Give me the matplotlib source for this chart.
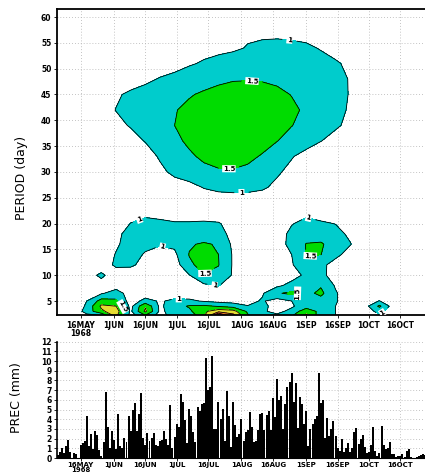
import numpy as np
import matplotlib
matplotlib.use("Agg")
import matplotlib.pyplot as plt
import matplotlib.dates as mdates
from datetime import date, timedelta

# wavelet power field: columns every 7 days from 5 May 1968, rows = period (day)
grid_start = date(1968, 5, 5)
grid_step = 7
periods = [62, 60, 57, 54, 51, 48, 45, 42, 39, 36, 33, 30, 27, 24, 22, 20,
           18, 16, 14, 12, 10, 8, 6.5, 5, 4, 3, 2]
power = [
    [0.4, 0.45, 0.5, 0.55, 0.6, 0.62, 0.65, 0.68, 0.7, 0.72, 0.74, 0.75, 0.76, 0.76, 0.75, 0.74, 0.72, 0.7, 0.66, 0.62, 0.58, 0.55, 0.5, 0.47, 0.44, 0.4],
    [0.42, 0.47, 0.52, 0.58, 0.63, 0.66, 0.69, 0.72, 0.75, 0.77, 0.79, 0.8, 0.81, 0.82, 0.82, 0.81, 0.79, 0.76, 0.72, 0.67, 0.62, 0.57, 0.52, 0.48, 0.45, 0.41],
    [0.45, 0.5, 0.55, 0.6, 0.65, 0.7, 0.74, 0.78, 0.82, 0.85, 0.87, 0.89, 0.9, 0.92, 0.93, 0.93, 0.92, 0.9, 0.86, 0.8, 0.74, 0.66, 0.58, 0.52, 0.47, 0.43],
    [0.45, 0.5, 0.55, 0.6, 0.65, 0.68, 0.7, 0.72, 0.76, 0.8, 0.85, 0.88, 0.92, 1.03, 1.08, 1.1, 1.08, 1.05, 0.98, 0.88, 0.78, 0.68, 0.6, 0.53, 0.48, 0.44],
    [0.45, 0.5, 0.55, 0.6, 0.65, 0.7, 0.72, 0.76, 0.8, 0.95, 1.05, 1.15, 1.25, 1.3, 1.32, 1.3, 1.25, 1.18, 1.1, 1.04, 0.93, 0.8, 0.68, 0.58, 0.5, 0.45],
    [0.5, 0.55, 0.6, 0.68, 0.75, 0.82, 0.9, 1.03, 1.15, 1.25, 1.35, 1.42, 1.47, 1.48, 1.47, 1.44, 1.38, 1.3, 1.2, 1.1, 0.98, 0.8, 0.68, 0.58, 0.5, 0.45],
    [0.5, 0.6, 0.7, 0.82, 0.95, 1.07, 1.18, 1.3, 1.4, 1.47, 1.55, 1.62, 1.66, 1.66, 1.63, 1.57, 1.49, 1.38, 1.25, 1.12, 0.98, 0.8, 0.68, 0.58, 0.5, 0.45],
    [0.5, 0.6, 0.72, 0.85, 1.01, 1.12, 1.25, 1.37, 1.48, 1.58, 1.68, 1.75, 1.78, 1.77, 1.72, 1.65, 1.56, 1.45, 1.3, 1.13, 0.95, 0.78, 0.66, 0.57, 0.5, 0.45],
    [0.45, 0.55, 0.65, 0.75, 0.9, 1.03, 1.18, 1.33, 1.5, 1.62, 1.72, 1.8, 1.83, 1.8, 1.74, 1.65, 1.51, 1.38, 1.22, 1.06, 0.9, 0.75, 0.64, 0.56, 0.5, 0.45],
    [0.4, 0.5, 0.58, 0.66, 0.75, 0.85, 1.02, 1.2, 1.4, 1.58, 1.7, 1.78, 1.8, 1.76, 1.66, 1.51, 1.35, 1.18, 1.01, 0.85, 0.72, 0.62, 0.55, 0.5, 0.45, 0.4],
    [0.35, 0.42, 0.5, 0.56, 0.62, 0.7, 0.8, 1.05, 1.25, 1.43, 1.58, 1.66, 1.67, 1.6, 1.46, 1.25, 1.03, 0.85, 0.72, 0.62, 0.55, 0.5, 0.45, 0.42, 0.4, 0.36],
    [0.3, 0.36, 0.42, 0.48, 0.54, 0.6, 0.7, 0.9, 1.1, 1.25, 1.38, 1.45, 1.46, 1.4, 1.25, 1.06, 0.88, 0.72, 0.62, 0.55, 0.5, 0.45, 0.42, 0.4, 0.36, 0.32],
    [0.3, 0.34, 0.38, 0.42, 0.46, 0.5, 0.58, 0.7, 0.8, 0.85, 1.02, 1.1, 1.13, 1.12, 1.06, 0.9, 0.75, 0.62, 0.55, 0.5, 0.46, 0.42, 0.4, 0.38, 0.35, 0.32],
    [0.3, 0.34, 0.38, 0.45, 0.55, 0.6, 0.6, 0.6, 0.62, 0.65, 0.72, 0.75, 0.75, 0.75, 0.72, 0.62, 0.6, 0.62, 0.6, 0.55, 0.5, 0.45, 0.42, 0.38, 0.35, 0.32],
    [0.3, 0.35, 0.45, 0.55, 0.7, 0.85, 0.93, 0.88, 0.86, 0.86, 0.87, 0.8, 0.7, 0.6, 0.55, 0.7, 0.85, 0.93, 0.85, 0.7, 0.55, 0.45, 0.4, 0.35, 0.32, 0.3],
    [0.3, 0.35, 0.45, 0.6, 0.8, 1.01, 1.1, 1.08, 1.03, 1.03, 1.04, 1.03, 0.85, 0.65, 0.55, 0.75, 0.98, 1.1, 1.05, 0.99, 0.8, 0.55, 0.45, 0.38, 0.33, 0.3],
    [0.3, 0.35, 0.5, 0.7, 0.9, 1.15, 1.2, 1.15, 1.12, 1.15, 1.2, 1.12, 0.9, 0.7, 0.6, 0.85, 1.08, 1.3, 1.3, 1.12, 0.93, 0.6, 0.45, 0.38, 0.33, 0.3],
    [0.3, 0.35, 0.5, 0.7, 0.95, 1.15, 1.08, 1.04, 1.1, 1.45, 1.56, 1.45, 0.9, 0.7, 0.6, 0.85, 1.1, 1.52, 1.55, 1.3, 1.02, 0.75, 0.5, 0.4, 0.33, 0.3],
    [0.3, 0.4, 0.55, 0.8, 1.02, 1.12, 0.97, 0.8, 0.9, 1.52, 1.62, 1.5, 0.95, 0.7, 0.6, 0.8, 1.0, 1.52, 1.51, 1.1, 0.85, 0.6, 0.45, 0.4, 0.33, 0.3],
    [0.3, 0.45, 0.6, 0.7, 1.1, 1.1, 0.8, 0.65, 0.75, 1.42, 1.65, 1.52, 0.95, 0.7, 0.6, 0.75, 0.95, 1.4, 1.1, 0.85, 0.7, 0.55, 0.45, 0.4, 0.33, 0.3],
    [0.3, 0.5, 0.8, 1.1, 0.7, 0.65, 0.6, 0.55, 0.7, 0.98, 1.48, 1.35, 0.95, 0.7, 0.6, 0.7, 0.8, 1.1, 1.12, 0.8, 0.65, 0.55, 0.45, 0.4, 0.33, 0.3],
    [0.3, 0.45, 0.65, 0.8, 0.8, 0.65, 0.6, 0.6, 0.7, 0.8, 0.9, 1.02, 0.8, 0.65, 0.7, 0.9, 1.15, 1.05, 1.45, 0.95, 0.7, 0.55, 0.5, 0.45, 0.35, 0.3],
    [0.3, 0.45, 0.7, 0.95, 1.2, 0.8, 0.75, 0.7, 0.75, 0.7, 0.7, 0.8, 0.7, 0.7, 0.95, 1.45, 1.6, 1.35, 1.62, 1.05, 0.7, 0.55, 0.5, 0.45, 0.35, 0.3],
    [0.3, 0.6, 1.0, 1.7, 1.6, 0.75, 1.15, 0.95, 1.1, 1.1, 0.95, 0.85, 0.8, 0.85, 1.05, 0.8, 1.0, 1.2, 1.3, 1.05, 0.7, 0.7, 1.02, 0.6, 0.4, 0.3],
    [0.3, 0.5, 1.1, 2.1, 2.0, 0.85, 1.95, 0.9, 1.3, 1.55, 1.6, 1.45, 1.3, 1.02, 1.1, 0.85, 0.95, 1.2, 1.25, 1.0, 0.6, 0.8, 1.6, 0.7, 0.45, 0.35],
    [0.3, 0.6, 1.2, 1.9, 2.3, 0.9, 2.1, 0.9, 1.2, 1.4, 1.9, 2.3, 2.2, 1.4, 1.05, 0.9, 1.1, 1.9, 1.3, 1.0, 0.7, 0.75, 1.15, 0.7, 0.45, 0.35],
    [0.3, 0.5, 0.8, 0.8, 2.1, 0.8, 1.3, 0.8, 1.2, 0.9, 2.0, 4.3, 2.8, 1.6, 1.1, 1.1, 1.5, 2.1, 1.2, 1.0, 0.7, 0.6, 0.9, 0.6, 0.45, 0.35],
]
levels = [1, 1.5, 2, 2.5, 3, 3.5, 10]
fill_colors = ["#00cccc", "#00dc00", "#e6dc32", "#f08228", "#fa3c3c", "#f00082"]

# daily precipitation (mm) from 5 May 1968
prec_start = date(1968, 5, 5)
prec = [
    0.3, 0.6, 1.0, 0.5,
    1.2, 1.9, 0.6, 0.0, 0.5, 0.4, 0.0,
    1.3, 1.5, 1.8, 4.3, 1.2, 2.5, 0.9, 2.8, 2.4, 0.8,
    0.2, 1.6, 6.8, 3.2, 1.0, 2.8, 1.9, 0.9, 4.5, 1.2,
    1.0, 2.1, 1.7, 4.3, 2.8, 5.0, 5.7, 2.8, 4.5, 6.7,
    2.1, 1.3, 2.6, 1.8, 2.1, 2.6, 1.3, 1.2, 1.8, 1.9,
    2.8, 2.0, 1.3, 5.5, 1.0, 2.2, 3.5, 3.2, 6.6, 5.8,
    3.9, 1.5, 5.1, 4.3, 2.7, 1.6, 5.3, 4.9, 5.6, 5.7,
    10.3, 7.0, 7.3, 10.5, 3.0, 3.0, 5.8, 4.0, 5.1, 1.8,
    6.9, 4.3, 1.1, 5.8, 3.4, 2.2, 2.5, 4.0, 1.8, 2.7,
    2.9, 4.7, 3.2, 1.7, 1.8, 2.9, 4.5, 4.6, 2.9, 4.4,
    4.9, 2.9, 6.2, 4.2, 8.1, 6.0, 6.4, 3.0, 5.6, 7.3,
    7.8, 8.8, 5.8, 7.7, 3.1, 6.3, 5.6, 3.5, 4.8, 1.2,
    3.0, 3.5, 4.0, 4.3, 8.8, 5.7, 6.0, 2.1, 4.1, 2.3,
    3.0, 3.8, 2.3, 1.0, 0.7, 2.0, 0.6, 1.0, 1.5, 0.6,
    1.0, 2.7, 3.1, 1.4, 2.0, 2.4, 1.1, 0.5, 0.6, 1.3,
    3.2, 0.7, 0.2, 0.5, 3.3, 1.3, 0.9, 1.0, 1.7, 0.4,
    0.4, 0.1, 0.2, 0.2, 0.4, 0.1, 0.7, 0.9, 0.1, 0.0,
    0.0, 0.1, 0.2, 0.3, 0.4, 0.3,
]

tick_dates = [date(1968, 5, 16), date(1968, 6, 1), date(1968, 6, 16), date(1968, 7, 1),
              date(1968, 7, 16), date(1968, 8, 1), date(1968, 8, 16), date(1968, 9, 1),
              date(1968, 9, 16), date(1968, 10, 1), date(1968, 10, 16)]
tick_labels = ["16MAY\n1968", "1JUN", "16JUN", "1JUL", "16JUL", "1AUG", "16AUG",
               "1SEP", "16SEP", "1OCT", "16OCT"]

# where the contour labels sit (date, period)
label_spots = [(date(1968, 8, 24), 55.7), (date(1968, 8, 6), 47.4), (date(1968, 7, 26), 30.7),
               (date(1968, 8, 1), 26.0), (date(1968, 6, 13), 21.0), (date(1968, 6, 24), 15.2),
               (date(1968, 7, 15), 10.0), (date(1968, 7, 19), 7.8), (date(1968, 9, 2), 21.0),
               (date(1968, 9, 3), 13.3), (date(1968, 8, 30), 8.0), (date(1968, 6, 5), 3.9),
               (date(1968, 10, 7), 3.0), (date(1968, 7, 2), 5.5)]

x0 = mdates.date2num(date(1968, 5, 16))
xlim = (x0 - 11.25, x0 + 164.8)

grid_x = mdates.date2num([grid_start + timedelta(days=grid_step * i) for i in range(len(power[0]))])
Z = np.array(power)[::-1]
P = np.array(periods)[::-1]

fig = plt.figure(figsize=(4.25, 4.72), dpi=100)
ax1 = fig.add_axes([57 / 425, 157 / 472, 368 / 425, 306 / 472])
ax2 = fig.add_axes([57 / 425, 14 / 472, 368 / 425, 116.3 / 472])

grid_kw = dict(color="#b0b0b0", linestyle=(0, (1, 2.5)), linewidth=0.6)

ax1.contourf(grid_x, P, Z, levels=levels, colors=fill_colors, zorder=2)
cs = ax1.contour(grid_x, P, Z, levels=levels[:-1], colors="black", linewidths=0.6, zorder=3)
spots = [(mdates.date2num(d), p) for d, p in label_spots]
lbls = ax1.clabel(cs, levels=[1, 1.5], fmt={1: "1", 1.5: "1.5"}, fontsize=5,
                  inline=True, manual=spots)
for t in lbls:
    t.set_bbox(dict(facecolor="white", edgecolor="none", pad=0.4))
    t.set_fontweight("bold")
    t.set_zorder(5)

ax1.set_xlim(xlim)
ax1.set_ylim(2.29, 61.55)
ax1.set_yticks(range(5, 61, 5))
ax1.set_xticks(mdates.date2num(tick_dates))
ax1.set_xticklabels(tick_labels)
ax1.grid(True, zorder=1, **grid_kw)
ax1.set_axisbelow(True)
ax1.set_ylabel("PERIOD (day)", fontsize=9)
ax1.yaxis.set_label_coords(-0.079, 0.448)
ax1.spines["right"].set_visible(False)
for s in ["left", "top", "bottom"]:
    ax1.spines[s].set_linewidth(1.3)

bar_x = mdates.date2num([prec_start + timedelta(days=i) for i in range(len(prec))])
ax2.bar(bar_x, prec, width=0.95, color="black", edgecolor="none", zorder=2)
ax2.set_xlim(xlim)
ax2.set_ylim(0, 12)
ax2.set_yticks(range(0, 13))
ax2.set_xticks(mdates.date2num(tick_dates))
ax2.set_xticklabels(tick_labels)
ax2.grid(True, zorder=1, **grid_kw)
ax2.set_axisbelow(True)
ax2.set_ylabel("PREC (mm)", fontsize=9)
ax2.yaxis.set_label_coords(-0.092, 0.52)
ax2.spines["right"].set_visible(False)
ax2.spines["top"].set_visible(False)
ax2.spines["left"].set_linewidth(1.2)
ax2.spines["bottom"].set_linewidth(0.8)

for ax in (ax1, ax2):
    ax.tick_params(axis="both", labelsize=5.5, length=2.5, width=0.6, pad=1.5)
    for lab in ax.get_xticklabels() + ax.get_yticklabels():
        lab.set_fontweight("bold")
        lab.set_linespacing(0.9)
# keep the second line of the first bottom label inside the picture
ax2.tick_params(axis="x", labelsize=5, pad=0.5)
for lab in ax2.get_xticklabels():
    lab.set_linespacing(0.8)

fig.savefig("out.png", dpi=100)
